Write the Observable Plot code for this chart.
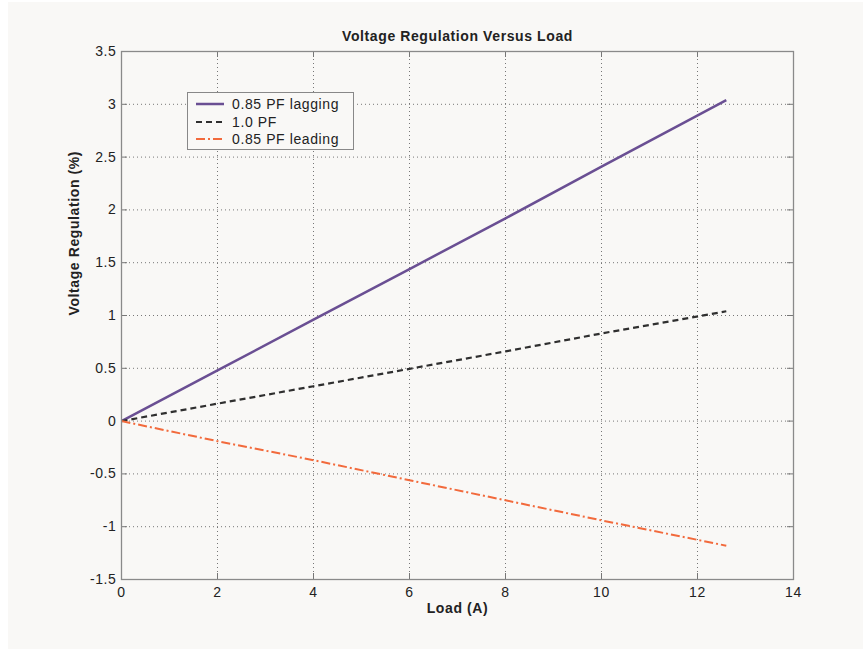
<!DOCTYPE html>
<html>
<head>
<meta charset="utf-8">
<script src="https://cdn.jsdelivr.net/npm/d3@7"></script>
<script src="https://cdn.jsdelivr.net/npm/@observablehq/plot@0.6"></script>
<style>
  html, body { margin: 0; padding: 0; background: #ffffff; }
  #wrap { position: absolute; left: 8px; top: 2px; width: 855px; height: 647px; background: #f9f8f6; font-family: "Liberation Sans", Arial, sans-serif; }
  #legend { position: absolute; left: 179px; top: 90px; width: 165px; height: 56px; border: 1px solid #888; background: #f9f8f6; font-size: 14px; letter-spacing: 0.6px; color: #222; }
  .row { position: absolute; left: 8px; height: 16px; display: flex; align-items: center; }
  .row span { margin-left: 8px; }
</style>
</head>
<body>
<div id="wrap">
  <div id="chart"></div>
  <div id="legend"></div>
</div>
<script>
const load = [0, 2, 4, 6, 8, 10, 12.6];
const lagging = [0, 0.48, 0.96, 1.44, 1.92, 2.41, 3.04];
const unity = [0, 0.165, 0.33, 0.495, 0.66, 0.83, 1.04];
const leading = [0, -0.19, -0.37, -0.56, -0.75, -0.94, -1.18];
const seriesNames = ["0.85 PF lagging", "1.0 PF", "0.85 PF leading"];
const xTicks = [0, 2, 4, 6, 8, 10, 12, 14];
const yTicks = [-1.5, -1, -0.5, 0, 0.5, 1, 1.5, 2, 2.5, 3, 3.5];
const titleText = "Voltage Regulation Versus Load";
const xLabel = "Load (A)";
const yLabel = "Voltage Regulation (%)";

const styles = [
  {stroke: "#6a4f93", strokeWidth: 2.5, dash: null},
  {stroke: "#2f2f2f", strokeWidth: 2.2, dash: "6,4"},
  {stroke: "#f26a3c", strokeWidth: 2, dash: "9,3,2,3"}
];
const seriesVals = [lagging, unity, leading];
const data = [];
seriesVals.forEach((vals, s) => vals.forEach((v, i) => data.push({series: seriesNames[s], x: load[i], y: v})));

const W = 855, H = 647;
const mL = 113, mT = 49, mR = 855 - 785, mB = 647 - 577;
const plotW = W - mL - mR, plotH = H - mT - mB;
const gridX = xTicks.slice(1, -1), gridY = yTicks.slice(1, -1);
const tickLen = 6;
const fs = 14;

const lineMarks = seriesNames.map((name, s) => Plot.line(data.filter(d => d.series === name), {
  x: "x", y: "y", stroke: styles[s].stroke, strokeWidth: styles[s].strokeWidth,
  strokeDasharray: styles[s].dash, strokeLinecap: "butt"
}));

const chart = Plot.plot({
  width: W, height: H,
  marginLeft: mL, marginRight: mR, marginTop: mT, marginBottom: mB,
  style: {background: "transparent", fontFamily: "'Liberation Sans', Arial, sans-serif", fontSize: fs + "px", color: "#222", letterSpacing: "0.6px"},
  x: {domain: [0, 14], ticks: xTicks, label: null},
  y: {domain: [-1.5, 3.5], ticks: yTicks, label: null},
  marks: [
    Plot.ruleX(gridX, {stroke: "#777", strokeDasharray: "1,3", strokeWidth: 1}),
    Plot.ruleY(gridY, {stroke: "#777", strokeDasharray: "1,3", strokeWidth: 1}),
    Plot.ruleX(xTicks, {stroke: "#777", insetTop: plotH - tickLen}),
    Plot.ruleX(xTicks, {stroke: "#777", insetBottom: plotH - tickLen}),
    Plot.ruleY(yTicks, {stroke: "#777", insetRight: plotW - tickLen}),
    Plot.ruleY(yTicks, {stroke: "#777", insetLeft: plotW - tickLen}),
    Plot.axisX(xTicks, {tickSize: 0, tickPadding: 8, fill: "#222", fontSize: fs, tickFormat: d => String(d)}),
    Plot.axisY(yTicks, {tickSize: 0, tickPadding: 5, fill: "#222", fontSize: fs, tickFormat: d => String(d)}),
    ...lineMarks,
    Plot.frame({stroke: "#8a8a8a", strokeWidth: 1.3}),
    Plot.text([titleText], {frameAnchor: "top", dy: -20, fontWeight: "bold", fontSize: fs, fill: "#222"}),
    Plot.text([xLabel], {frameAnchor: "bottom", dy: 33, fontWeight: "bold", fontSize: fs, fill: "#222"}),
    Plot.text([yLabel], {frameAnchor: "left", dx: -47, rotate: -90, fontWeight: "bold", fontSize: fs, fill: "#222"})
  ]
});
document.getElementById("chart").appendChild(chart);

// legend
const legend = document.getElementById("legend");
seriesNames.forEach((name, s) => {
  const row = document.createElement("div");
  row.className = "row";
  row.style.top = (3 + s * 17.5) + "px";
  const svg = d3.create("svg").attr("width", 28).attr("height", 10);
  svg.append("line").attr("x1", 0).attr("x2", 28).attr("y1", 5).attr("y2", 5)
    .attr("stroke", styles[s].stroke).attr("stroke-width", styles[s].strokeWidth)
    .attr("stroke-dasharray", styles[s].dash);
  row.appendChild(svg.node());
  const sp = document.createElement("span");
  sp.textContent = name;
  row.appendChild(sp);
  legend.appendChild(row);
});
</script>
</body>
</html>
